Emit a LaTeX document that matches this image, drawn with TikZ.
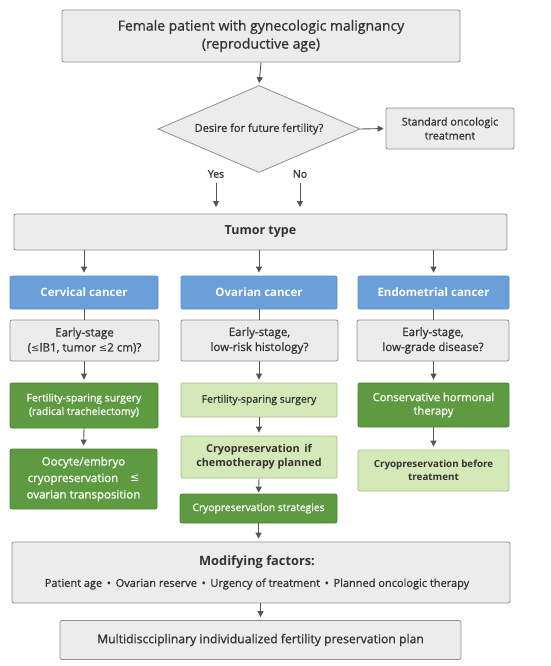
\documentclass[tikz,border=0pt]{standalone}
\usepackage{fontspec}
\setmainfont{Open Sans}[UprightFeatures={FakeBold=0.9},BoldFeatures={FakeBold=0}]
\newfontfamily\symf{DejaVu Sans}
\usetikzlibrary{shapes.geometric,arrows.meta}
\definecolor{gfill}{HTML}{ECECEC}
\definecolor{gline}{HTML}{8F8F8F}
\definecolor{bfill}{HTML}{6A9FD9}
\definecolor{bline}{HTML}{5A8DC8}
\definecolor{dgfill}{HTML}{5E9B40}
\definecolor{dgline}{HTML}{4C8531}
\definecolor{lgfill}{HTML}{D4E8B8}
\definecolor{lgline}{HTML}{A3C386}
\definecolor{txt}{HTML}{333333}
\definecolor{arrc}{HTML}{555555}
\begin{document}
\begin{tikzpicture}[x=1pt,y=-1pt,
  base/.style={rectangle,rounded corners=2pt,line width=0.8pt,inner sep=0pt,align=center},
  gbox/.style={base,draw=gline,fill=gfill,text=txt},
  bbox/.style={base,draw=bline,fill=bfill,text=white,font=\fontsize{11.5}{13}\selectfont\bfseries},
  dgbox/.style={base,draw=dgline,fill=dgfill,text=white},
  lgbox/.style={base,draw=lgline,fill=lgfill,text=txt},
  arr/.style={draw=arrc,line width=0.9pt,-{Triangle[width=6pt,length=6pt]},shorten >=3pt},
  ln/.style={draw=arrc,line width=0.9pt}]
\useasboundingbox[fill=white] (0,0) rectangle (550,666);
% top
\node[gbox,minimum width=398pt,minimum height=52pt,font=\fontsize{14}{18}\selectfont] (top) at (261,36)
  {Female patient with gynecologic malignancy\\(reproductive age)};
\node[diamond,draw=gline,fill=gfill,line width=0.8pt,text=txt,aspect=2.3,inner sep=0pt,
  minimum width=202pt,minimum height=87pt,font=\fontsize{11}{12}\selectfont] (dia) at (259,129)
  {Desire for future fertility?};
\node[gbox,minimum width=128pt,minimum height=41pt,font=\fontsize{10.8}{14}\selectfont] (std) at (450,128.5)
  {Standard oncologic\\treatment};
\draw[arr,shorten >=2pt] (dia.east) -- (std.west);
\draw[arr,shorten >=2pt] (top.south) -- (dia.north);
\node[text=txt,font=\fontsize{10.5}{12}\selectfont,inner sep=1pt] (yes) at (216,174) {Yes};
\node[text=txt,font=\fontsize{10.5}{12}\selectfont,inner sep=1pt] (no) at (300,174) {No};
\coordinate (yesE) at (216,210);
\coordinate (noE) at (300,210);
\draw[arr] ([yshift=-4pt]yes.south) -- (yesE);
\draw[arr] ([yshift=-4pt]no.south) -- (noE);
% tumor type
\node[gbox,minimum width=493pt,minimum height=36pt,font=\fontsize{12.5}{15}\selectfont\bfseries] (tum) at (260.5,232)
  {Tumor type};
% blue row
\node[bbox,minimum width=148pt,minimum height=33pt] (cerv) at (84,292.5) {Cervical cancer};
\node[bbox,minimum width=156pt,minimum height=33pt] (ova) at (259,292.5) {Ovarian cancer};
\node[bbox,minimum width=151pt,minimum height=33pt] (endo) at (433.5,292.5) {Endometrial cancer};
\draw[arr] (tum.south -| cerv.north) -- (cerv.north);
\draw[arr] (tum.south -| ova.north) -- (ova.north);
\draw[arr] (tum.south -| endo.north) -- (endo.north);
% gray row
\node[gbox,minimum width=149pt,minimum height=41pt,font=\fontsize{11.5}{15}\selectfont] (cq) at (84.5,340.5)
  {Early-stage\\({\symf\fontsize{10}{15}\selectfont ≤}IB1, tumor {\symf\fontsize{10}{15}\selectfont ≤}2 cm)?};
\node[gbox,minimum width=157pt,minimum height=41pt,font=\fontsize{11.5}{15}\selectfont] (oq) at (259.5,340.5)
  {Early-stage,\\low-risk histology?};
\node[gbox,minimum width=152pt,minimum height=41pt,font=\fontsize{11.5}{15}\selectfont] (eq) at (433,340.5)
  {Early-stage,\\low-grade disease?};
\draw[ln] (cerv.south) -- (cerv.south |- cq.north);
\draw[ln] (ova.south) -- (ova.south |- oq.north);
\draw[ln] (endo.south) -- (endo.south |- eq.north);
% cervical column
\node[dgbox,minimum width=148pt,minimum height=45pt,font=\fontsize{10.4}{13.5}\selectfont] (cs) at (84,405.5)
  {Fertility-sparing surgery\\(radical trachelectomy)};
\node[dgbox,minimum width=147pt,minimum height=60pt,font=\fontsize{11.5}{16.5}\selectfont] (cc) at (83.5,479)
  {Oocyte/embryo\\cryopreservation\quad{\symf ≤}\\ovarian transposition};
\draw[arr] (cq.south -| cs.north) -- (cs.north);
\draw[arr] (cs.south) -- (cc.north);
% ovarian column
\node[lgbox,minimum width=156pt,minimum height=34pt,font=\fontsize{10.4}{12}\selectfont] (os) at (259,400)
  {Fertility-sparing surgery};
\node[lgbox,minimum width=156pt,minimum height=42pt,font=\fontsize{10.8}{14}\selectfont\bfseries] (oc) at (259,457)
  {Cryopreservation\, if\\chemotherapy planned};
\node[dgbox,minimum width=157pt,minimum height=29pt,font=\fontsize{10.3}{12}\selectfont] (ost) at (258.5,508.5)
  {Cryopreservation strategies};
\draw[arr] (oq.south -| os.north) -- (os.north);
\draw[arr] (os.south) -- (oc.north);
\draw[arr,shorten >=1pt] (oc.south) -- (ost.north);
% endometrial column
\node[dgbox,minimum width=151pt,minimum height=44pt,font=\fontsize{11.2}{13.5}\selectfont] (es) at (433.5,405)
  {Conservative hormonal\\therapy};
\node[lgbox,minimum width=151pt,minimum height=41pt,font=\fontsize{9.8}{13.5}\selectfont\bfseries] (ec) at (433.5,470.5)
  {Cryopreservation before\\treatment};
\draw[arr] (eq.south -| es.north) -- (es.north);
\draw[arr] (es.south) -- (ec.north);
% modifying factors
\node[gbox,minimum width=498pt,minimum height=61pt] (mod) at (261,572.5) {};
\node[text=txt,font=\fontsize{12.8}{14}\selectfont\bfseries,inner sep=0pt] (modt) at (257,562) {Modifying factors:};
\node[text=txt,font=\fontsize{11}{12}\selectfont,inner sep=0pt] (modf) at (257,584)
  {Patient age \,•\, Ovarian reserve \,•\, Urgency of treatment \,•\, Planned oncologic therapy};
\draw[arr] (ost.south) -- (mod.north -| ost.south);
% final
\node[gbox,minimum width=401pt,minimum height=39pt,font=\fontsize{12.2}{13}\selectfont] (fin) at (260.5,640)
  {Multidiscciplinary individualized fertility preservation plan};
\draw[arr] (mod.south -| fin.north) -- (fin.north);
\end{tikzpicture}
\end{document}
